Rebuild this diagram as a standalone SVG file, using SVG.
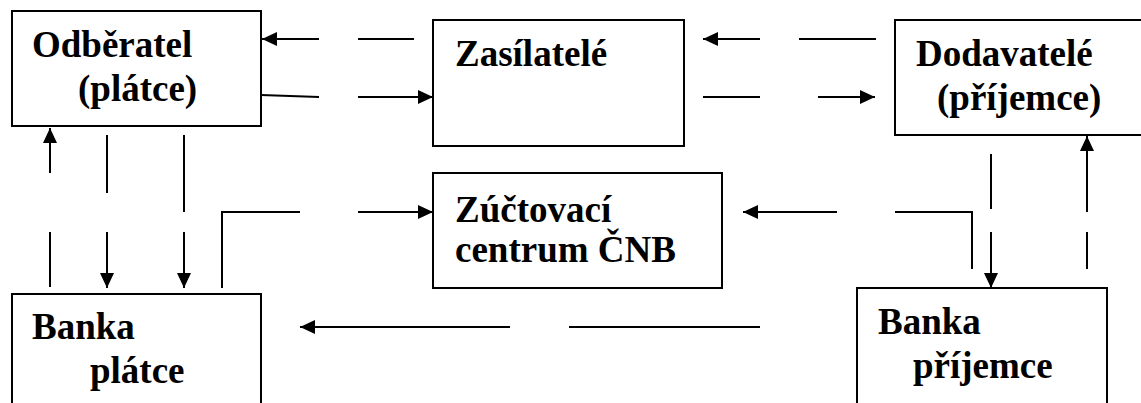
<svg xmlns="http://www.w3.org/2000/svg" width="1141" height="403" viewBox="0 0 1141 403" font-family="Times New Roman, Liberation Serif, serif">
<defs>
<marker id="ah" markerUnits="userSpaceOnUse" markerWidth="15" markerHeight="14" refX="15" refY="7" orient="auto">
<path d="M0,0 L15,7 L0,14 z" fill="#000"/>
</marker>
</defs>
<rect width="1141" height="403" fill="#fff"/>
<g id="odberatel">
<rect x="12" y="11" width="249" height="115" fill="#fff" stroke="#000" stroke-width="2"/>
<text x="32" y="57" font-family="Times New Roman, Liberation Serif, serif" font-weight="bold" font-size="37">Odběratel</text>
<text x="78" y="101" font-family="Times New Roman, Liberation Serif, serif" font-weight="bold" font-size="37">(plátce)</text>
</g>
<g id="zasilatele">
<rect x="433" y="20" width="251" height="126" fill="#fff" stroke="#000" stroke-width="2"/>
<text x="455" y="66" font-family="Times New Roman, Liberation Serif, serif" font-weight="bold" font-size="37">Zasílatelé</text>
</g>
<g id="dodavatele">
<rect x="895" y="20" width="260" height="115" fill="#fff" stroke="#000" stroke-width="2"/>
<text x="916" y="66" font-family="Times New Roman, Liberation Serif, serif" font-weight="bold" font-size="37">Dodavatelé</text>
<text x="937" y="110" font-family="Times New Roman, Liberation Serif, serif" font-weight="bold" font-size="37">(příjemce)</text>
</g>
<g id="zuctovaci">
<rect x="433" y="173" width="289" height="115" fill="#fff" stroke="#000" stroke-width="2"/>
<text x="455" y="222" font-family="Times New Roman, Liberation Serif, serif" font-weight="bold" font-size="37">Zúčtovací</text>
<text x="455" y="262" font-family="Times New Roman, Liberation Serif, serif" font-weight="bold" font-size="37">centrum ČNB</text>
</g>
<g id="banka-platce">
<rect x="12" y="294" width="249" height="120" fill="#fff" stroke="#000" stroke-width="2"/>
<text x="32" y="339" font-family="Times New Roman, Liberation Serif, serif" font-weight="bold" font-size="37">Banka</text>
<text x="90" y="383" font-family="Times New Roman, Liberation Serif, serif" font-weight="bold" font-size="37">plátce</text>
</g>
<g id="banka-prijemce">
<rect x="857" y="288" width="250" height="125" fill="#fff" stroke="#000" stroke-width="2"/>
<text x="878" y="334" font-family="Times New Roman, Liberation Serif, serif" font-weight="bold" font-size="37">Banka</text>
<text x="913" y="378" font-family="Times New Roman, Liberation Serif, serif" font-weight="bold" font-size="37">příjemce</text>
</g>
<g id="connectors" fill="none" stroke="#000" stroke-width="2">
<line x1="319" y1="39" x2="262" y2="39" marker-end="url(#ah)"/>
<line x1="358" y1="39" x2="414" y2="39"/>
<line x1="261" y1="95" x2="319" y2="97"/>
<line x1="358" y1="97" x2="433" y2="97" marker-end="url(#ah)"/>
<line x1="760" y1="39" x2="703" y2="39" marker-end="url(#ah)"/>
<line x1="799" y1="39" x2="876" y2="39"/>
<line x1="703" y1="97" x2="760" y2="97"/>
<line x1="818" y1="97" x2="875" y2="97" marker-end="url(#ah)"/>
<line x1="1087" y1="269" x2="1087" y2="232"/>
<line x1="1087" y1="212" x2="1087" y2="136" marker-end="url(#ah)"/>
<line x1="991" y1="154" x2="991" y2="209"/>
<line x1="991" y1="232" x2="991" y2="288" marker-end="url(#ah)"/>
<polyline points="972,269 972,212 895,212"/>
<line x1="837" y1="212" x2="743" y2="212" marker-end="url(#ah)"/>
<line x1="760" y1="327" x2="569" y2="327"/>
<line x1="510" y1="327" x2="300" y2="327" marker-end="url(#ah)"/>
<polyline points="222,288 222,212 300,212"/>
<line x1="358" y1="212" x2="433" y2="212" marker-end="url(#ah)"/>
<line x1="50" y1="287" x2="50" y2="232"/>
<line x1="50" y1="173" x2="50" y2="128" marker-end="url(#ah)"/>
<line x1="107" y1="135" x2="107" y2="193"/>
<line x1="107" y1="232" x2="107" y2="288" marker-end="url(#ah)"/>
<line x1="184" y1="135" x2="184" y2="212"/>
<line x1="184" y1="232" x2="184" y2="288" marker-end="url(#ah)"/>
</g>
</svg>
